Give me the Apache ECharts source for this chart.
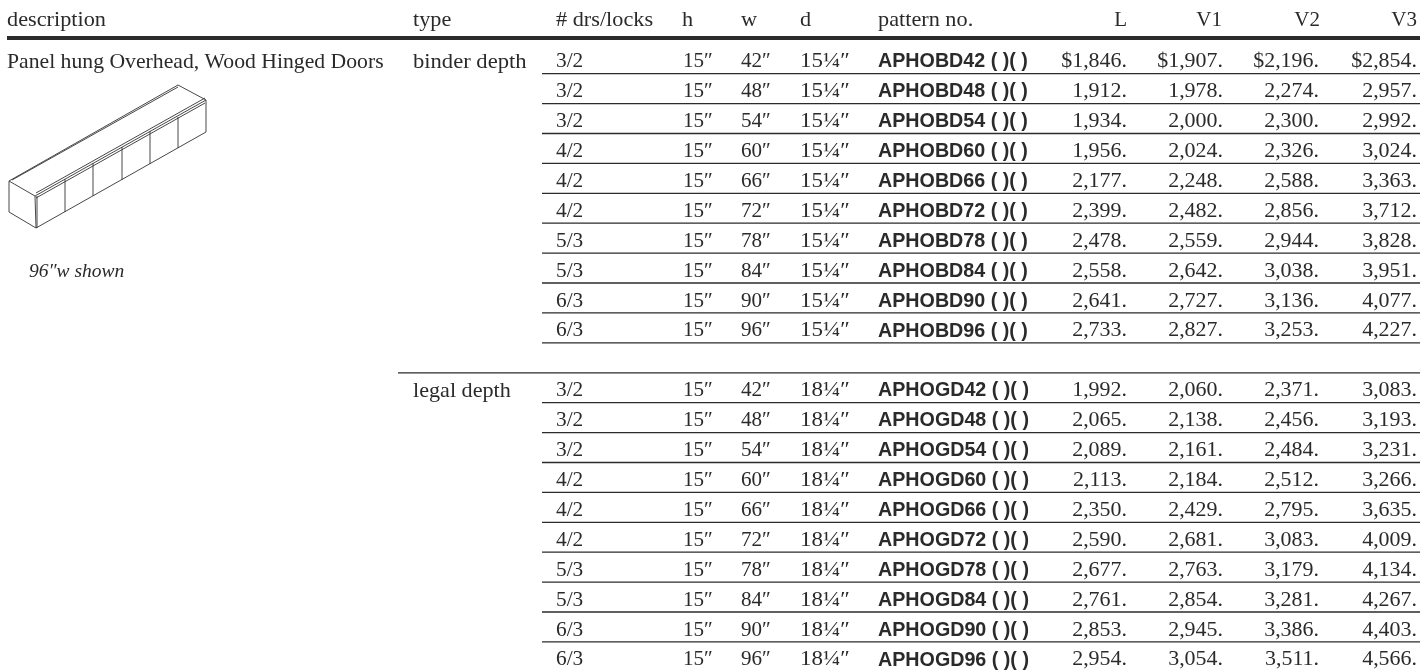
<!DOCTYPE html>
<html><head><meta charset="utf-8">
<style>html,body{margin:0;padding:0;background:#fff}#c{width:1420px;height:670px}</style>
<script src="https://cdn.jsdelivr.net/npm/echarts@6/dist/echarts.min.js"></script>
</head><body><div id="c"></div>
<script>
const headers=['description','type','# drs/locks','h','w','d','pattern no.','L','V1','V2','V3'];
const description='Panel hung Overhead, Wood Hinged Doors';
const shownNote='96″w shown';
const types=['binder depth','legal depth'];
const doorsLocks=['3/2','3/2','3/2','4/2','4/2','4/2','5/3','5/3','6/3','6/3'];
const heights=['15″','15″','15″','15″','15″','15″','15″','15″','15″','15″'];
const widths=['42″','48″','54″','60″','66″','72″','78″','84″','90″','96″'];
const depths=['15¼″','18¼″'];
const patternCodes=[
 ['APHOBD42','APHOBD48','APHOBD54','APHOBD60','APHOBD66','APHOBD72','APHOBD78','APHOBD84','APHOBD90','APHOBD96'],
 ['APHOGD42','APHOGD48','APHOGD54','APHOGD60','APHOGD66','APHOGD72','APHOGD78','APHOGD84','APHOGD90','APHOGD96']];
const priceL=[[1846,1912,1934,1956,2177,2399,2478,2558,2641,2733],[1992,2065,2089,2113,2350,2590,2677,2761,2853,2954]];
const priceV1=[[1907,1978,2000,2024,2248,2482,2559,2642,2727,2827],[2060,2138,2161,2184,2429,2681,2763,2854,2945,3054]];
const priceV2=[[2196,2274,2300,2326,2588,2856,2944,3038,3136,3253],[2371,2456,2484,2512,2795,3083,3179,3281,3386,3511]];
const priceV3=[[2854,2957,2992,3024,3363,3712,3828,3951,4077,4227],[3083,3193,3231,3266,3635,4009,4134,4267,4403,4566]];

// layout (kept apart from the data)
const colX={description:7,type:413,doors:556,h:683,w:741,d:800,pattern:878,L:1127,V1:1223,V2:1319,V3:1417};
const headerX=[7,413,556,682,741,800,878,1127,1222,1320,1417];
const headerY=20, groupY=[62,391], rowPitch=29.9;
const SERIF='"Liberation Serif",serif', SANS='"Liberation Sans",sans-serif', INK='#2a2a2a';
const FONT={word:'21px '+SERIF,num:'20.5px '+SERIF,sans:'bold 19.7px '+SANS,italic:'italic 19.5px '+SERIF};

const money=(v,first)=>(first?'$':'')+Math.floor(v/1000)+','+String(v%1000).padStart(3,'0')+'.';
const cells=[], rules=[];
headers.forEach((t,i)=>cells.push([headerX[i],headerY,t,i>=7?'right':'left','word',i>=7?1:1.06]));
cells.push([colX.description,groupY[0],description,'left','word',1.033]);
cells.push([29,271.5,shownNote,'left','italic',1]);
types.forEach((ty,g)=>{
  cells.push([colX.type,groupY[g],ty,'left','word',g?1.055:1.076]);
  for(let r=0;r<10;r++){
    const y=groupY[g]+r*rowPitch;
    cells.push([colX.doors,y,doorsLocks[r],'left','num',1.04]);
    cells.push([colX.h,y,heights[r],'left','num',1.03]);
    cells.push([colX.w,y,widths[r],'left','num',1.03]);
    cells.push([colX.d,y,depths[g],'left','num',1.12]);
    cells.push([colX.pattern,y,patternCodes[g][r]+' ( )( )','left','sans',1]);
    const first=g===0&&r===0;
    cells.push([colX.L,y,money(priceL[g][r],first),'right','num',1.07]);
    cells.push([colX.V1,y,money(priceV1[g][r],first),'right','num',1.07]);
    cells.push([colX.V2,y,money(priceV2[g][r],first),'right','num',1.07]);
    cells.push([colX.V3,y,money(priceV3[g][r],first),'right','num',1.07]);
    if(!(g===1&&r===9)) rules.push([542,y+11.7,1420,1.3]);
  }
});
rules.push([7,38,1420,4]);
rules.push([398,372.8,1420,1.3]);

const P=a=>({type:'polyline',shape:{points:a},style:{fill:null,stroke:'#333',lineWidth:0.9},silent:true});
const drawing=[
 [[9,181],[35,196],[36,228],[9,212],[9,181]],
 [[9,181],[178,85],[206,100],[35,196]],
 [[12,180],[178,87]],
 [[36,193],[205,98]],[[36,198],[205,103]],
 [[36,228],[206,132],[206,100]],
 [[37,196],[37,228]],
 [[65,179],[65,212]],[[93,163],[93,196]],[[122,147],[122,180]],[[150,131],[150,164]],[[178,117],[178,148]]
];

const chart=echarts.init(document.getElementById('c'),null,{renderer:'canvas'});
chart.setOption({
  animation:false,backgroundColor:'#fff',
  grid:{left:0,right:0,top:0,bottom:0},
  xAxis:{type:'value',min:0,max:1420,show:false},
  yAxis:{type:'value',min:0,max:670,inverse:true,show:false},
  graphic:drawing.map(P),
  series:[
   {type:'custom',silent:true,coordinateSystem:'cartesian2d',data:rules,z:1,clip:false,
    renderItem:(p,api)=>{const a=api.coord([api.value(0),api.value(1)]),b=api.coord([api.value(2),api.value(1)]);
      return {type:'rect',shape:{x:a[0],y:a[1]-api.value(3)/2,width:b[0]-a[0],height:api.value(3)},style:{fill:'#2b2b2b'}};}},
   {type:'custom',silent:true,coordinateSystem:'cartesian2d',data:cells,z:2,encode:{x:0,y:1},clip:false,
    renderItem:(p,api)=>{const c=cells[p.dataIndex],q=api.coord([c[0],c[1]]);
      return {type:'text',x:q[0],y:q[1],scaleX:c[5],originX:0,style:{text:c[2],font:FONT[c[4]],fill:INK,align:c[3],verticalAlign:'middle'}};}}
  ]
});
</script></body></html>
